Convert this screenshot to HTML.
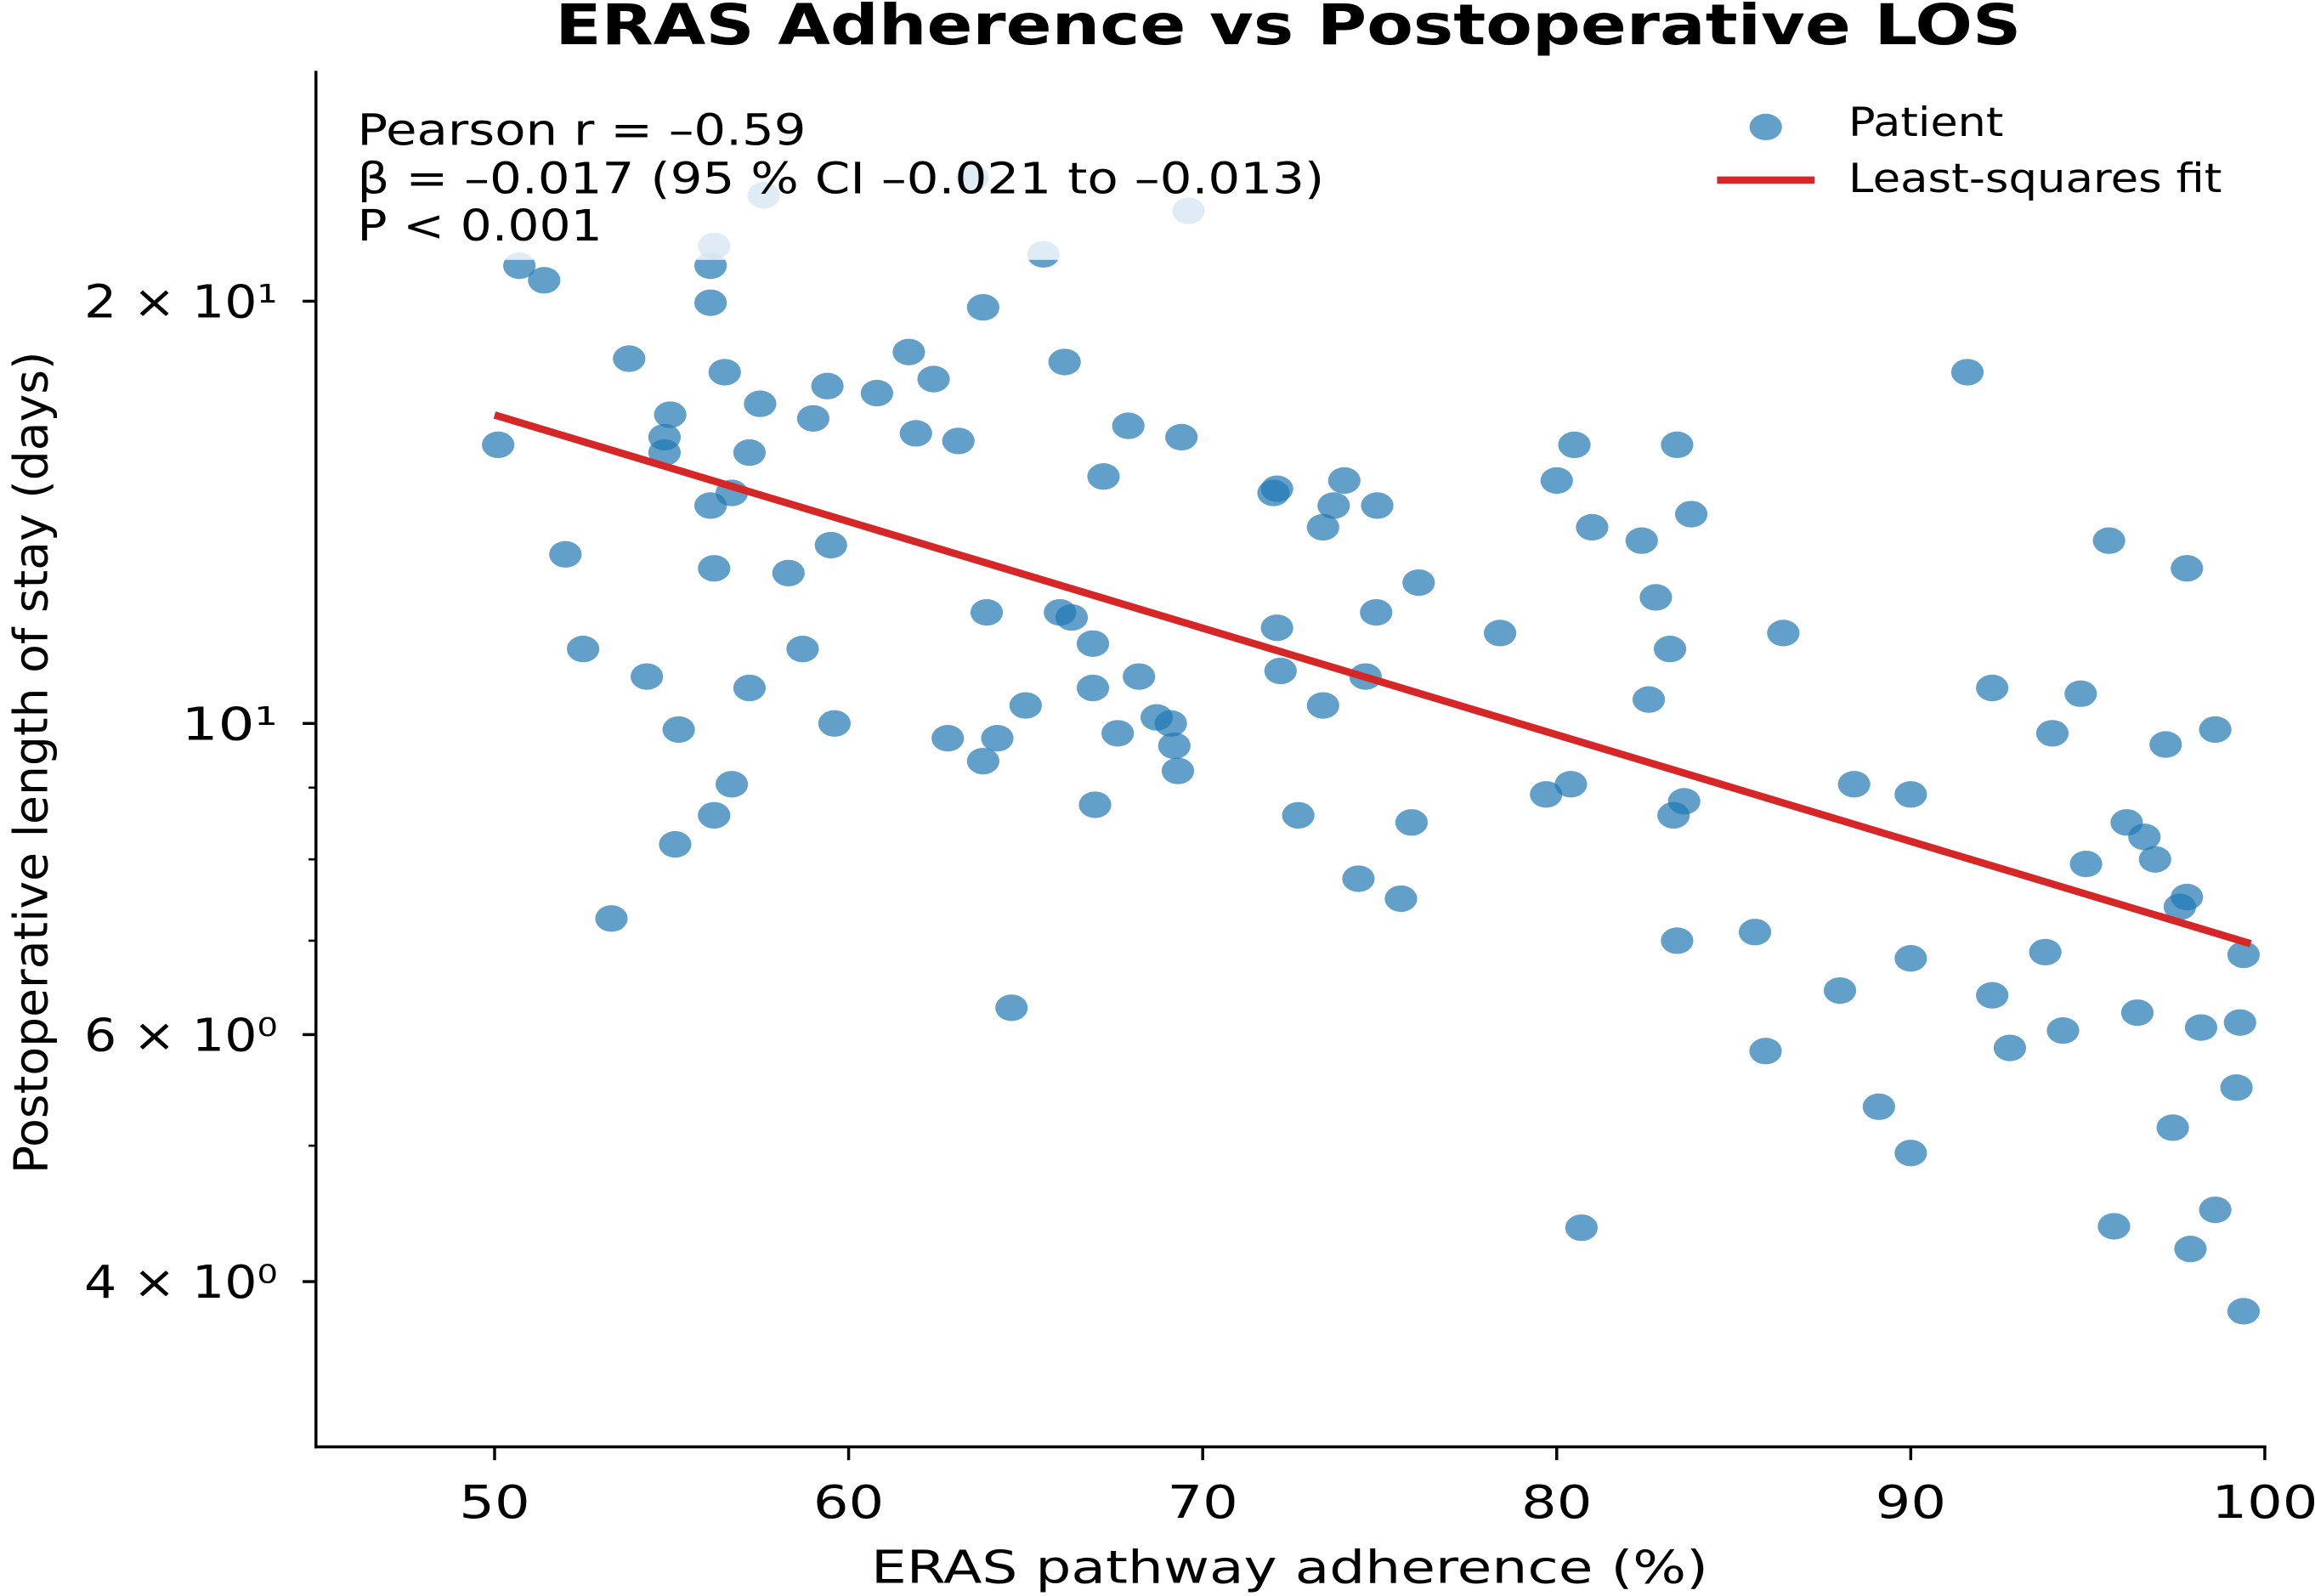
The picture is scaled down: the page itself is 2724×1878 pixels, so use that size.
<!DOCTYPE html>
<html><head><meta charset="utf-8"><style>
html,body{margin:0;padding:0;background:#fff}
svg{display:block}
text{font-family:"DejaVu Sans","Liberation Sans",sans-serif;fill:#000}
</style></head><body>
<svg id="chart" width="2724" height="1878" viewBox="0 0 1568 1081" preserveAspectRatio="none" xmlns="http://www.w3.org/2000/svg">
<text x="376" y="30" font-size="38" font-weight="bold" textLength="993" lengthAdjust="spacingAndGlyphs">ERAS Adherence vs Postoperative LOS</text>
<g id="ticks"></g>
<g id="points"></g>
<rect x="232" y="64" width="676" height="112" fill="#fff" opacity="0.8"/>
<g id="fit"></g>
<line x1="214" y1="48" x2="214" y2="981" stroke="#000" stroke-width="2"/>
<line x1="213" y1="980" x2="1535" y2="980" stroke="#000" stroke-width="2"/>
<text x="590" y="1072" font-size="31" textLength="567" lengthAdjust="spacingAndGlyphs">ERAS pathway adherence (%)</text>
<text transform="translate(32,795) rotate(-90)" font-size="32" textLength="557" lengthAdjust="spacingAndGlyphs">Postoperative length of stay (days)</text>
<g font-size="29">
<text x="242" y="98" textLength="304" lengthAdjust="spacingAndGlyphs">Pearson r = –0.59</text>
<text x="242" y="131" textLength="655" lengthAdjust="spacingAndGlyphs">β = –0.017 (95 % CI –0.021 to –0.013)</text>
<text x="242" y="163" textLength="166" lengthAdjust="spacingAndGlyphs">P &lt; 0.001</text>
</g>
<g font-size="27">
<ellipse cx="1196" cy="86" rx="11" ry="9" fill="#1f77b4" opacity="0.7"/>
<text x="1252" y="92" textLength="105" lengthAdjust="spacingAndGlyphs">Patient</text>
<line x1="1163" y1="122" x2="1229" y2="122" stroke="#d62728" stroke-width="5"/>
<text x="1252" y="130" textLength="253" lengthAdjust="spacingAndGlyphs">Least-squares fit</text>
</g>
</svg>
<script>
const adherence=[50.1,50.7,51.4,52.0,52.5,53.3,53.8,54.3,54.96,54.8,54.8,55.2,55.1,56.1,56.2,56.2,56.1,56.1,56.2,56.5,56.7,56.7,57.2,57.2,57.5,57.6,58.3,58.7,59.0,59.4,59.5,59.6,60.8,61.7,61.9,62.4,62.8,63.1,63.5,63.8,63.9,63.8,64.2,64.6,65.0,65.5,65.97,66.1,66.3,66.9,66.9,66.96,67.2,67.6,67.9,68.2,68.7,69.1,69.2,69.3,69.4,69.6,72.0,72.1,72.1,72.2,72.7,73.4,73.4,73.7,74.0,74.4,74.6,74.9,74.93,75.6,75.9,76.1,78.4,79.7,80.0,80.4,80.5,80.7,81.0,82.4,82.6,82.8,83.2,83.3,83.4,83.4,83.6,83.8,85.6,85.9,86.4,88.0,88.4,89.1,90.0,90.0,90.0,91.6,92.3,92.3,92.8,93.8,94.0,94.3,94.8,94.95,95.6,95.74,96.1,96.4,96.6,96.9,97.2,97.4,97.6,97.8,97.8,97.9,98.2,98.6,98.6,99.2,99.3,99.4,99.4];
const losDays=[15.8,21.2,20.7,13.2,11.3,7.26,18.2,10.8,16.6,16.0,15.6,9.9,8.2,14.3,12.9,8.6,19.95,21.2,21.9,17.8,14.6,9.05,15.6,10.6,16.9,23.8,12.8,11.3,16.5,17.4,13.4,10,17.2,18.4,16.1,17.6,9.76,15.9,24.5,19.8,12.0,9.4,9.76,6.27,10.3,21.6,12.0,18.1,11.9,11.4,10.6,8.75,15.0,9.84,16.3,10.8,10.1,10.0,9.64,9.25,16.0,23.2,14.6,14.7,11.7,10.9,8.6,10.3,13.8,14.3,14.9,7.75,10.8,12.0,14.3,7.5,8.5,12.6,11.6,8.9,14.9,9.05,15.8,4.37,13.8,13.5,10.4,12.3,11.3,8.6,15.8,7.0,8.8,14.1,7.1,5.84,11.6,6.45,9.05,5.33,8.9,6.8,4.94,17.8,10.6,6.4,5.87,6.87,9.84,6.04,10.5,7.94,13.5,4.38,8.5,6.22,8.3,8.0,9.66,5.15,7.4,7.52,12.9,4.22,6.07,9.9,4.5,5.5,6.12,6.84,3.81];
const xTicks=[50,60,70,80,90,100];
const yMajorTicks=[4,6,10,20];
const yMajorLabels=["4 × 10⁰","6 × 10⁰","10¹","2 × 10¹"];
const yMinorTicks=[5,7,8,9];
const fitX=[50,99.6];
const fitIntercept=3.684, fitSlope=-0.0175;

const NS="http://www.w3.org/2000/svg";
function xs(v){return 335+(v-50)*23.98;}
function ys(v){return 490-(Math.log10(v)-1)*950;}
function mk(tag,attrs,parent){const e=document.createElementNS(NS,tag);for(const k in attrs)e.setAttribute(k,attrs[k]);parent.appendChild(e);return e;}
const tg=document.getElementById('ticks');
xTicks.forEach(t=>{
  const l=mk('line',{x1:xs(t),x2:xs(t),y1:980,y2:989,stroke:'#000','stroke-width':2},tg);
  
  
  const w=String(t).length*24;
  const tx=mk('text',{x:xs(t)-w/2,y:1028,'font-size':31,textLength:w,lengthAdjust:'spacingAndGlyphs'},tg);
  tx.textContent=t;
  
  
});
yMajorTicks.forEach((t,i)=>{
  const l=mk('line',{x1:205,x2:214,y1:ys(t),y2:ys(t),stroke:'#000','stroke-width':2},tg);
  
  
  const w=yMajorLabels[i].length>3?131:65;
  const tx=mk('text',{x:188-w,y:ys(t)+11,'font-size':31,textLength:w,lengthAdjust:'spacingAndGlyphs'},tg);
  tx.textContent=yMajorLabels[i];
  
  
});
yMinorTicks.forEach(t=>{
  const l=mk('line',{x1:209,x2:214,y1:ys(t),y2:ys(t),stroke:'#000','stroke-width':1.5},tg);
  
  
});
const pg=document.getElementById('points');
adherence.forEach((x,i)=>{
  const e=mk('ellipse',{cx:xs(x),cy:ys(losDays[i]),rx:11,ry:9,fill:'#1f77b4',opacity:0.7},pg);
  
  
});
const fg=document.getElementById('fit');
const fl=mk('line',{x1:xs(fitX[0]),y1:ys(Math.exp(fitIntercept+fitSlope*fitX[0])),x2:xs(fitX[1]),y2:ys(Math.exp(fitIntercept+fitSlope*fitX[1])),stroke:'#d62728','stroke-width':5},fg);


</script>
</body></html>
